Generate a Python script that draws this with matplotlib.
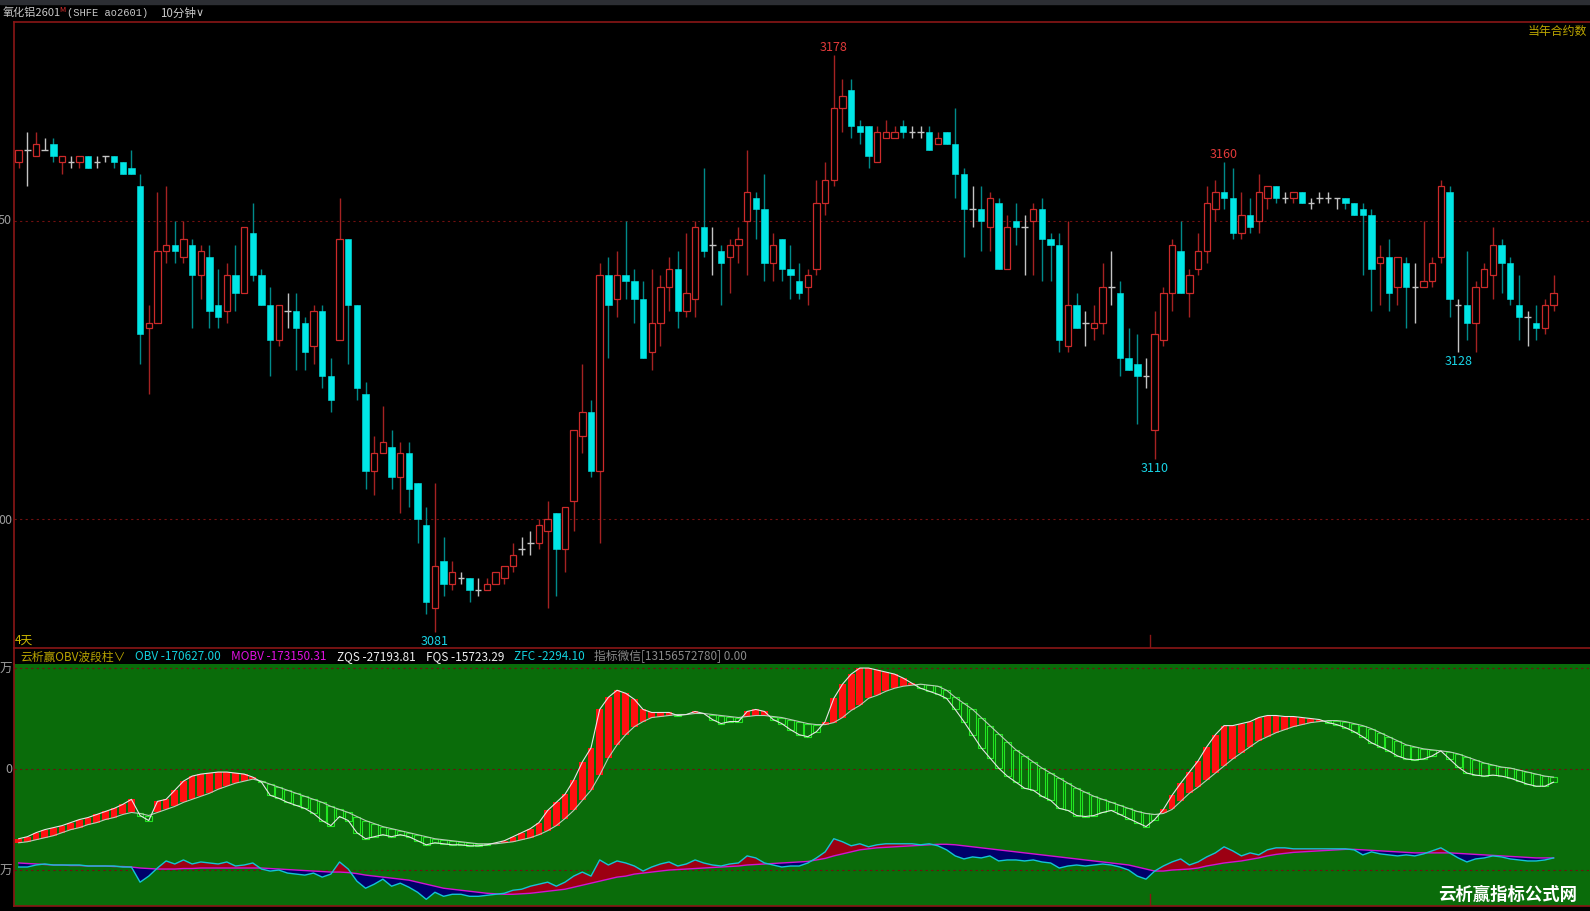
import numpy as np
import matplotlib
matplotlib.use("Agg")
from matplotlib import pyplot as plt
from matplotlib.lines import Line2D
from matplotlib.patches import Rectangle

plt.rcParams['font.family'] = ['Noto Sans CJK SC', 'DejaVu Sans']

# 10-minute candles, ao2601
opens = [3160, 3162, 3161, 3162, 3163, 3160, 3160, 3160, 3161, 3160, 3161, 3161, 3160, 3159,
         3156, 3132, 3133, 3145, 3146, 3144, 3146, 3141, 3144, 3136, 3135, 3141, 3138, 3148,
         3141, 3136, 3130, 3135, 3135, 3133, 3129, 3135, 3124, 3130, 3147, 3136, 3121, 3108,
         3111, 3112, 3107, 3111, 3106, 3099, 3085, 3093, 3089, 3090, 3090, 3088, 3088, 3089,
         3090, 3092, 3095, 3096, 3096, 3098, 3101, 3095, 3103, 3114, 3118, 3108, 3141, 3137,
         3141, 3140, 3137, 3128, 3133, 3139, 3142, 3135, 3137, 3149, 3146, 3145, 3144, 3146,
         3150, 3154, 3152, 3143, 3147, 3142, 3140, 3139, 3142, 3153, 3157, 3169, 3172, 3166,
         3166, 3160, 3164, 3164, 3166, 3165, 3165, 3165, 3163, 3165, 3163, 3158, 3152, 3152,
         3149, 3153, 3142, 3150, 3149, 3150, 3152, 3147, 3146, 3129, 3136, 3133, 3132, 3133,
         3139, 3138, 3127, 3126, 3124, 3115, 3130, 3138, 3145, 3138, 3142, 3145, 3152, 3155,
         3154, 3148, 3151, 3150, 3154, 3156, 3154, 3154, 3155, 3153, 3154, 3154, 3154, 3154,
         3153, 3152, 3151, 3143, 3144, 3139, 3143, 3139, 3139, 3140, 3144, 3155, 3136, 3136,
         3133, 3139, 3141, 3146, 3143, 3136, 3134, 3133, 3132, 3136]
highs = [3162, 3165, 3165, 3164, 3164, 3161, 3161, 3161, 3161, 3161, 3161, 3161, 3160, 3162,
         3158, 3136, 3155, 3156, 3150, 3150, 3147, 3146, 3146, 3142, 3143, 3146, 3149, 3153,
         3142, 3139, 3136, 3138, 3138, 3134, 3136, 3136, 3127, 3154, 3147, 3136, 3123, 3114,
         3119, 3115, 3113, 3113, 3106, 3102, 3106, 3097, 3093, 3091, 3090, 3090, 3090, 3091,
         3092, 3096, 3097, 3098, 3100, 3103, 3101, 3102, 3115, 3126, 3120, 3143, 3144, 3145,
         3150, 3142, 3140, 3142, 3141, 3144, 3145, 3148, 3150, 3159, 3149, 3146, 3147, 3149,
         3162, 3155, 3158, 3148, 3147, 3146, 3143, 3142, 3157, 3160, 3178, 3174, 3174, 3167,
         3166, 3166, 3167, 3166, 3167, 3166, 3166, 3166, 3165, 3165, 3169, 3159, 3156, 3156,
         3155, 3154, 3151, 3153, 3151, 3153, 3154, 3148, 3148, 3150, 3138, 3135, 3136, 3143,
         3145, 3140, 3132, 3131, 3127, 3135, 3139, 3147, 3150, 3142, 3148, 3156, 3157, 3160,
         3159, 3155, 3154, 3158, 3156, 3156, 3155, 3155, 3155, 3154, 3155, 3155, 3154, 3154,
         3153, 3153, 3152, 3146, 3147, 3144, 3144, 3143, 3150, 3144, 3157, 3156, 3137, 3145,
         3140, 3143, 3149, 3147, 3144, 3141, 3135, 3136, 3137, 3141]
lows = [3159, 3156, 3161, 3162, 3160, 3158, 3159, 3159, 3159, 3159, 3160, 3159, 3158, 3158,
        3126, 3121, 3133, 3143, 3143, 3143, 3132, 3137, 3132, 3132, 3133, 3135, 3138, 3140,
        3136, 3124, 3129, 3132, 3125, 3125, 3126, 3122, 3118, 3130, 3126, 3120, 3105, 3104,
        3111, 3105, 3101, 3102, 3096, 3084, 3081, 3087, 3088, 3089, 3086, 3087, 3088, 3089,
        3089, 3091, 3094, 3094, 3095, 3085, 3087, 3091, 3098, 3111, 3107, 3096, 3127, 3134,
        3137, 3133, 3127, 3125, 3129, 3135, 3132, 3134, 3134, 3144, 3141, 3136, 3138, 3143,
        3141, 3147, 3140, 3140, 3140, 3137, 3137, 3136, 3141, 3151, 3156, 3165, 3164, 3163,
        3159, 3160, 3164, 3164, 3164, 3164, 3164, 3162, 3163, 3163, 3154, 3144, 3149, 3145,
        3145, 3142, 3142, 3146, 3141, 3141, 3140, 3140, 3128, 3128, 3132, 3129, 3130, 3131,
        3136, 3124, 3125, 3116, 3122, 3110, 3129, 3135, 3138, 3134, 3141, 3143, 3150, 3152,
        3147, 3147, 3148, 3148, 3152, 3153, 3153, 3153, 3153, 3152, 3153, 3153, 3152, 3152,
        3151, 3141, 3135, 3136, 3135, 3136, 3132, 3133, 3139, 3139, 3143, 3134, 3128, 3130,
        3128, 3139, 3137, 3138, 3136, 3130, 3129, 3130, 3131, 3135]
closes = [3162, 3162, 3163, 3162, 3161, 3161, 3160, 3161, 3159, 3160, 3161, 3160, 3158, 3158,
          3131, 3133, 3145, 3146, 3145, 3147, 3141, 3145, 3135, 3134, 3141, 3138, 3149, 3141,
          3136, 3130, 3136, 3135, 3132, 3128, 3135, 3124, 3120, 3147, 3136, 3122, 3108, 3111,
          3113, 3107, 3111, 3105, 3100, 3086, 3092, 3089, 3091, 3090, 3088, 3088, 3089, 3091,
          3092, 3094, 3095, 3096, 3099, 3100, 3095, 3102, 3115, 3118, 3108, 3141, 3136, 3141,
          3140, 3137, 3127, 3133, 3139, 3142, 3135, 3138, 3149, 3145, 3146, 3143, 3146, 3147,
          3155, 3152, 3143, 3146, 3142, 3141, 3138, 3141, 3153, 3157, 3169, 3171, 3166, 3165,
          3161, 3165, 3165, 3165, 3165, 3165, 3165, 3162, 3164, 3163, 3158, 3152, 3152, 3150,
          3154, 3142, 3149, 3149, 3149, 3152, 3147, 3146, 3130, 3136, 3132, 3133, 3133, 3139,
          3139, 3127, 3125, 3124, 3124, 3131, 3138, 3146, 3138, 3141, 3145, 3153, 3155, 3154,
          3148, 3151, 3149, 3155, 3156, 3154, 3154, 3155, 3153, 3153, 3154, 3154, 3154, 3153,
          3151, 3151, 3142, 3144, 3138, 3144, 3139, 3139, 3140, 3143, 3156, 3137, 3136, 3133,
          3139, 3142, 3146, 3143, 3137, 3134, 3134, 3132, 3136, 3138]

# OBV wave indicator (units: 万)
fast = [-6.9, -6.7, -6.3, -6.0, -5.8, -5.6, -5.3, -5.0, -4.8, -4.5, -4.2, -3.9, -3.5, -3.0,
        -4.6, -5.1,
        -3.2, -3.0, -2.1, -1.2, -0.7, -0.5, -0.4, -0.3, -0.3, -0.4, -0.5, -0.8,
        -1.3, -2.6, -2.9, -3.3, -3.6, -3.9, -4.4, -5.1, -5.6, -4.7, -5.1, -6.3, -6.9, -6.7,
        -6.5, -6.7, -6.5, -6.7, -7.1, -7.5, -7.3, -7.4, -7.5, -7.5, -7.6, -7.6, -7.5,
        -7.3, -7.1, -6.7, -6.3, -5.9, -5.3, -4.1, -3.3, -2.5, -1.1, 0.7, 2.1, 5.9, 7.1, 7.8,
        7.5, 6.9, 5.9, 5.6, 5.6, 5.6, 5.3, 5.4, 5.7, 5.5,
        4.9, 4.5, 4.7, 4.7,
        5.7, 5.9, 5.7,
        4.9, 4.5, 3.9, 3.4, 3.2, 3.7,
        4.7, 7.0, 8.4, 9.4, 10.0, 10.0, 9.8, 9.6, 9.4, 9.0, 8.5,
        8.0, 7.7, 7.4, 7.0, 5.9, 4.7, 3.4, 2.1, 1.1, 0.1, -0.7, -1.3, -1.9, -2.1, -2.7, -3.1,
        -3.9, -4.1, -4.6, -4.7, -4.6, -4.3, -4.1, -4.5, -4.9, -5.3, -5.7,
        -5.0,
        -4.0, -2.6, -1.4, -0.3, 0.8, 2.2, 3.4, 4.3, 4.3, 4.5, 4.7, 5.1, 5.3, 5.3, 5.2, 5.2,
        5.1, 5.0, 4.9,
        4.6, 4.4, 4.1, 3.7, 3.2, 2.6, 2.2, 1.8, 1.3, 1.0, 0.9, 1.0, 1.3, 1.8, 1.0, 0.2, -0.4,
        -0.6, -0.7, -0.6, -0.7, -0.9, -1.2, -1.5, -1.7, -1.7, -1.3]
slow = [-7.3, -7.2, -7.0, -6.8, -6.6, -6.3, -6.0, -5.8, -5.5, -5.3, -5.0, -4.8, -4.5, -4.3,
        -4.4, -4.6,
        -4.3, -4.0, -3.7, -3.3, -3.0, -2.7, -2.4, -2.0, -1.7, -1.4, -1.2, -1.0,
        -1.2, -1.5, -1.8, -2.1, -2.4, -2.7, -3.0, -3.3, -3.7, -4.0, -4.3, -4.7, -5.1, -5.4,
        -5.7, -5.9, -6.1, -6.3, -6.5, -6.7, -6.9, -7.0, -7.1, -7.2, -7.3, -7.4, -7.4,
        -7.4, -7.3, -7.2, -7.0, -6.8, -6.5, -6.1, -5.6, -4.9, -4.1, -3.1, -2.1, -0.6, 1.1, 2.4,
        3.4, 4.2, 4.7, 5.1, 5.2, 5.3, 5.4, 5.4, 5.5, 5.5,
        5.4, 5.3, 5.2, 5.1,
        5.2, 5.3, 5.3,
        5.2, 5.1, 4.9, 4.7, 4.5, 4.4,
        4.4, 4.6, 5.1, 5.8, 6.3, 7.0, 7.3, 7.7, 8.0, 8.2, 8.3,
        8.4, 8.3, 8.2, 7.8, 7.1, 6.5, 5.9, 5.1, 4.3, 3.5, 2.7, 1.9, 1.3, 0.7, 0.1, -0.4,
        -0.9, -1.4, -1.9, -2.3, -2.7, -3.0, -3.3, -3.6, -3.9, -4.2, -4.4,
        -4.5,
        -4.4, -4.0, -3.2, -2.4, -1.8, -1.1, -0.4, 0.3, 1.0, 1.6, 2.2, 2.8, 3.2, 3.6, 3.9, 4.2,
        4.4, 4.6, 4.7,
        4.8, 4.8, 4.7, 4.5, 4.3, 4.0, 3.6, 3.2, 2.8, 2.4, 2.2, 2.0, 1.9, 1.8, 1.7, 1.5, 1.2,
        0.9, 0.6, 0.4, 0.2, 0.1, -0.1, -0.3, -0.5, -0.7, -0.8]
obv = [-9.7, -9.7, -9.5, -9.4, -9.5, -9.5, -9.5, -9.5, -9.6, -9.6, -9.6, -9.6, -9.7, -9.7,
       -11.2, -10.6, -9.8, -9.1, -9.4, -9.0, -9.4, -9.2, -9.3, -9.4, -9.2, -9.6, -9.5, -9.3,
       -9.9, -10.1, -10.0, -10.3, -10.4, -10.5, -10.3, -10.7, -10.4, -9.2, -9.9, -11.1, -11.8,
       -11.4, -10.9, -11.6, -11.3, -11.7, -12.2, -12.9, -12.2, -12.6, -12.4, -12.4, -12.6,
       -12.6, -12.5,
       -12.4, -12.3, -12.0, -11.9, -11.6, -11.4, -11.2, -11.6, -11.2, -10.6, -10.2, -10.6,
       -9.0, -9.5, -9.1, -9.3, -9.6, -10.1, -9.7, -9.4, -9.2, -9.6, -9.4, -9.0, -9.3,
       -9.5, -9.6, -9.4, -9.3, -8.6, -8.8, -9.3, -9.5, -9.7, -9.6, -9.6, -9.3, -8.8, -8.2,
       -6.9, -7.2, -7.6, -7.4, -7.7, -7.5, -7.4, -7.4, -7.4, -7.4,
       -7.5, -7.4, -7.6, -8.0, -8.6, -8.9, -8.7, -8.8, -8.6, -9.1, -9.0, -9.0, -9.1, -9.0,
       -9.2, -9.3, -9.8, -9.6, -9.5, -9.6, -9.5, -9.4, -9.5, -9.7, -10.0, -10.6, -10.9,
       -10.1, -9.6, -9.2, -8.9, -9.5, -9.2, -8.7, -8.3, -7.7, -8.1, -8.6, -8.3, -8.5, -8.0,
       -7.8, -7.8, -7.9, -7.9, -7.9, -7.9, -7.9, -7.9, -7.9, -8.0,
       -8.5, -8.2, -8.4, -8.5, -8.6, -8.5, -8.6, -8.4, -8.1, -7.8, -8.3, -8.8, -9.2, -8.9,
       -8.8, -8.6, -8.7, -8.9, -9.0, -9.1, -9.1, -9.0, -8.8]
mobv = [-9.3, -9.35, -9.4, -9.45, -9.5, -9.5, -9.55, -9.55, -9.6, -9.6, -9.6, -9.65, -9.65, -9.7,
        -9.8, -9.85, -9.9, -9.9, -9.9, -9.85, -9.85, -9.8, -9.8, -9.8, -9.8, -9.8, -9.8, -9.8,
        -9.8, -9.85, -9.9, -9.95, -10.0, -10.05, -10.1, -10.15, -10.2, -10.2, -10.25, -10.35,
        -10.5, -10.6, -10.7, -10.8, -10.9, -11.0, -11.2, -11.4, -11.6, -11.8, -11.9, -12.0,
        -12.1, -12.2, -12.3,
        -12.35, -12.4, -12.4, -12.35, -12.3, -12.2, -12.1, -12.0, -11.9, -11.7, -11.5, -11.3,
        -11.1, -10.9, -10.7, -10.6, -10.4, -10.3, -10.2, -10.1, -10.0, -9.95, -9.9, -9.85, -9.8,
        -9.75, -9.7, -9.65, -9.6, -9.5, -9.45, -9.4, -9.35, -9.3, -9.25, -9.2, -9.15, -9.0,
        -8.85, -8.6, -8.4, -8.2, -8.0, -7.9, -7.8, -7.75, -7.7, -7.65, -7.6,
        -7.55, -7.5, -7.45, -7.45, -7.5, -7.6, -7.7, -7.8, -7.9, -8.0, -8.1, -8.2, -8.3, -8.4,
        -8.5, -8.6, -8.7, -8.8, -8.9, -9.0, -9.1, -9.2, -9.3, -9.4, -9.5, -9.7, -9.9,
        -10.1, -10.1, -10.0, -9.95, -9.9, -9.8, -9.6, -9.45, -9.3, -9.2, -9.1, -8.95, -8.8,
        -8.6, -8.45, -8.35, -8.25, -8.2, -8.15, -8.1, -8.05, -8.0, -7.95, -7.95,
        -8.0, -8.05, -8.1, -8.15, -8.2, -8.25, -8.3, -8.3, -8.3, -8.3, -8.3, -8.35, -8.4,
        -8.45, -8.5, -8.55, -8.6, -8.65, -8.7, -8.75, -8.8, -8.8, -8.8]

# price marks: (candle index, price, is_high)
marks = [(94, 3178, True), (139, 3160, True), (48, 3081, False), (131, 3110, False), (166, 3128, False)]

W, H = 1590, 912
FRAME = '#8a1616'
GRID = '#701010'
RED = '#cc2a2a'
RED_WICK = '#a52222'
CYAN = '#00e6e6'
TEAL_WICK = '#008a8a'
DOJI = '#c4c4c4'


def fx(px):
    return px / W


def fy(py):
    return 1 - py / H


fig = plt.figure(figsize=(15.9, 9.12), dpi=100, facecolor='black')
fig.patches.append(Rectangle((0, fy(5)), 1, 5 / H, transform=fig.transFigure,
                             color='#2c2e33', zorder=0))

# ---- main candle panel
ax = fig.add_axes([fx(14), fy(649), 1 - fx(14), fy(23) - fy(649)])
ax.set_facecolor('black')
x = np.arange(len(opens))
o, h, l, c = (np.array(v, dtype=float) for v in (opens, highs, lows, closes))
up, down, flat = c > o, c < o, c == o
bw = 0.74

ax.vlines(x[up], l[up], h[up], color=RED_WICK, lw=1, zorder=1)
ax.vlines(x[down], l[down], h[down], color=TEAL_WICK, lw=1, zorder=1)
ax.vlines(x[flat], l[flat], h[flat], color=DOJI, lw=1, zorder=1)
ax.bar(x[up], (c - o)[up], bottom=o[up], width=bw, facecolor='black', edgecolor=RED,
       lw=0.9, zorder=2)
ax.bar(x[down], (o - c)[down], bottom=c[down], width=bw, facecolor=CYAN, edgecolor=CYAN,
       lw=0.4, zorder=2)
ax.hlines(o[flat], x[flat] - bw / 2, x[flat] + bw / 2, color=DOJI, lw=1, zorder=2)

for lvl in (3150, 3100):
    ax.axhline(lvl, color=GRID, lw=0.8, ls=(0, (2, 3)), zorder=0)
ax.axvline(130.5, ymin=0, ymax=0.02, color=FRAME, lw=1)

for i, p, is_high in marks:
    ax.annotate(str(p), (i, p), xytext=(0, 6 if is_high else -6), textcoords='offset points',
                ha='center', va='center', fontsize=9,
                color='#e23a3a' if is_high else '#19d4e6')

ax.set_xlim(-0.54, 181.2)
ax.set_ylim(3078.3, 3183.5)
ax.set_xticks([])
ax.set_yticks([])
for side in ('top', 'left', 'bottom'):
    ax.spines[side].set_color(FRAME)
    ax.spines[side].set_linewidth(1.2)
ax.spines['right'].set_visible(False)

# ---- indicator panel
ax2 = fig.add_axes([fx(14), fy(907), 1 - fx(14), fy(665) - fy(907)])
ax2.set_facecolor('#0a6c0a')
f, s = np.array(fast), np.array(slow)
rise = f >= s
ax2.bar(x[rise], (f - s)[rise], bottom=s[rise], width=0.78, color='#ff1010', lw=0, zorder=2)
ax2.bar(x[~rise], (s - f)[~rise], bottom=f[~rise], width=0.78, facecolor='none',
        edgecolor='#22e622', lw=0.8, zorder=2)
ax2.plot(x, s, color='#b8ccb8', lw=0.8, zorder=3)
ax2.plot(x, f, color='#e6e6e6', lw=0.8, zorder=3)

b, m = np.array(obv), np.array(mobv)
ax2.fill_between(x, b, m, where=b >= m, interpolate=True, color='#9c0012', lw=0, zorder=2)
ax2.fill_between(x, b, m, where=b < m, interpolate=True, color='#00006a', lw=0, zorder=2)
ax2.plot(x, m, color='#d214d2', lw=1, zorder=3)
ax2.plot(x, b, color='#12c4d6', lw=1, zorder=3)

for lvl in (10, 0, -10):
    ax2.axhline(lvl, color=GRID, lw=0.8, ls=(0, (2, 3)), zorder=1)
ax2.axvline(130.5, ymin=0, ymax=0.05, color=FRAME, lw=1)

ax2.set_xlim(-0.54, 181.2)
ax2.set_ylim(-13.56, 10.4)
ax2.set_xticks([])
ax2.set_yticks([])
for side in ('left', 'bottom'):
    ax2.spines[side].set_color(FRAME)
    ax2.spines[side].set_linewidth(1.2)
for side in ('top', 'right'):
    ax2.spines[side].set_visible(False)
fig.add_artist(Line2D([fx(14), fx(14)], [fy(665), fy(649)], color=FRAME, lw=1.2))

ax2.text(0.992, 0.05, '云析赢指标公式网', transform=ax2.transAxes, ha='right', va='center',
         fontsize=12.5, fontweight='bold', color='white')

# ---- header / labels
fig.text(fx(3), fy(13), '氧化铝2601', fontsize=8, color='#c8c8c8', va='center')
fig.text(fx(59), fy(10), 'M', fontsize=5.5, color='#e03030', va='center')
fig.text(fx(67), fy(13), '(SHFE ao2601)', fontsize=7.5, color='#c8c8c8', va='center',
         family=['Liberation Mono', 'DejaVu Sans Mono'])
fig.text(fx(160), fy(13), '10分钟', fontsize=8.3, color='#c8c8c8', va='center')
fig.text(fx(196), fy(13), '∨', fontsize=8, color='#c8c8c8', va='center',
         family=['DejaVu Sans'])
fig.text(fx(1587), fy(31), '当年合约数', fontsize=8.6, color='#bca600', ha='right', va='center')
fig.text(fx(15), fy(640), '4天', fontsize=8.5, color='#cdb800', va='center')

for label, py in (('50', 221), ('00', 520)):
    fig.text(fx(12), fy(py), label, fontsize=9, color='#9c9c9c', ha='right', va='center')
for label, py in (('万', 669), ('0', 770), ('万', 871)):
    fig.text(fx(12), fy(py), label, fontsize=9, color='#9c9c9c', ha='right', va='center')

legend_items = [('云析赢OBV波段柱∨', 20, '#b8a400'), ('OBV -170627.00', 135, '#12d0dc'),
                ('MOBV -173150.31', 231, '#e010e0'), ('ZQS -27193.81', 337, '#f0f0f0'),
                ('FQS -15723.29', 426, '#f0f0f0'), ('ZFC -2294.10', 514, '#12d0dc'),
                ('指标微信[13156572780] 0.00', 594, '#8a8a8a')]
for text, px, col in legend_items:
    fig.text(fx(px), fy(657), text, fontsize=8.5, color=col, va='center')

fig.savefig('out.png', dpi=100, facecolor='black')
